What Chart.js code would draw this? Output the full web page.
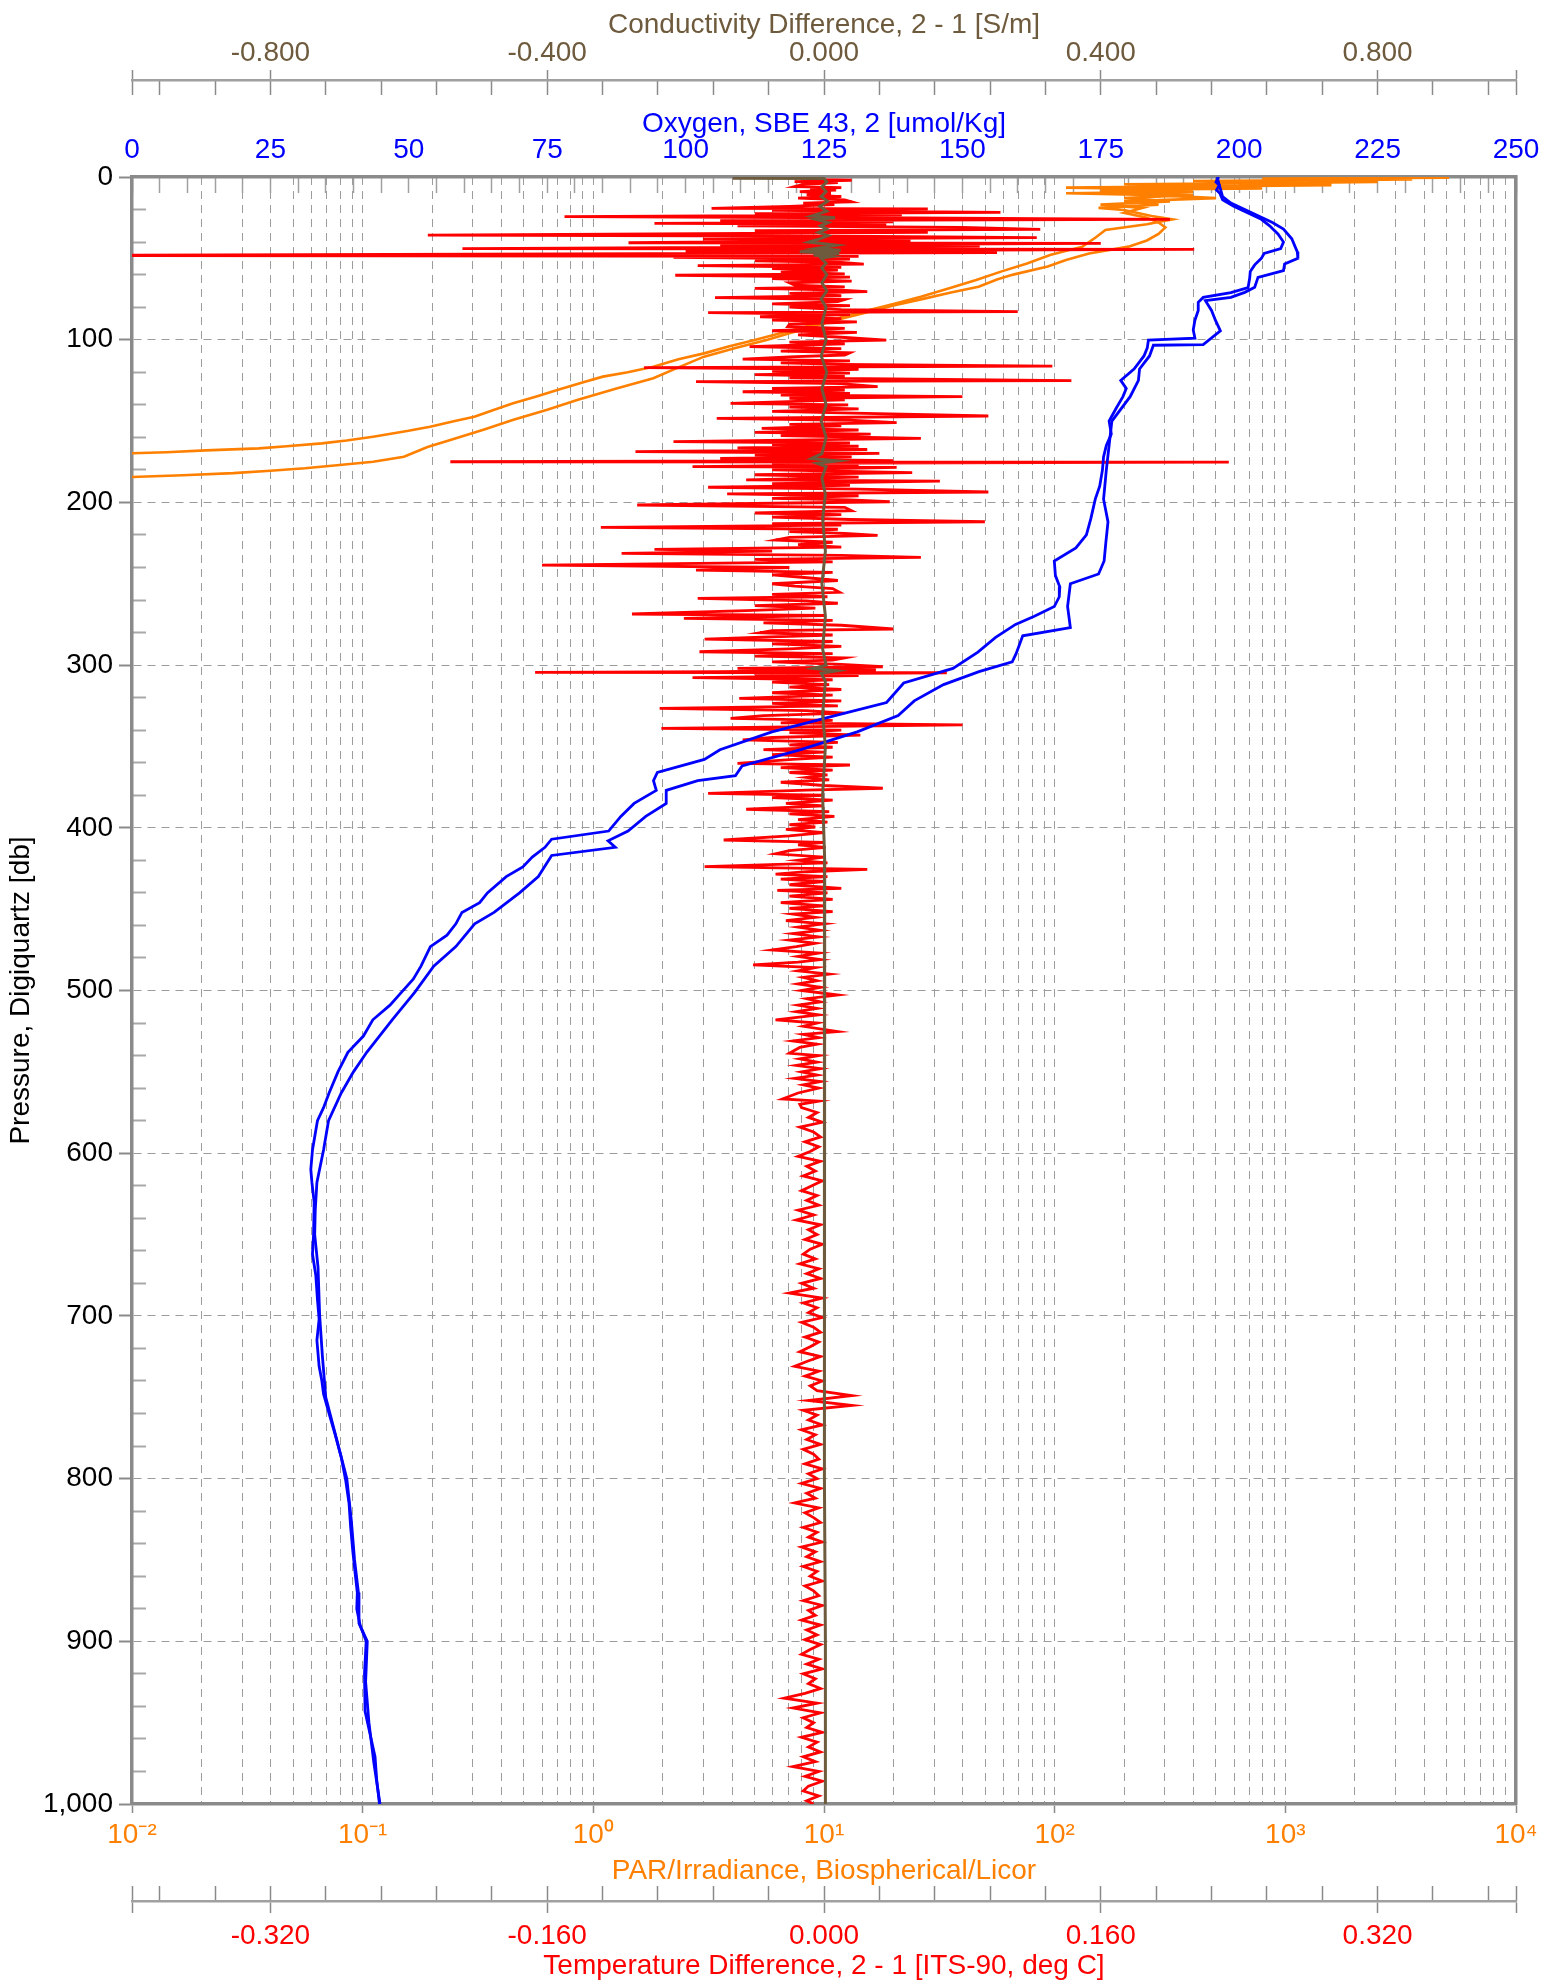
<!DOCTYPE html>
<html lang="en">
<head>
<meta charset="UTF-8">
<title>CTD cast - sensor differences</title>
<script src="https://cdn.jsdelivr.net/npm/chart.js"></script>
<style>
  html, body { margin: 0; padding: 0; background: #fff; }
  canvas { display: block; }
</style>
</head>
<body>
<canvas id="profileChart" width="1567" height="1986"></canvas>
<script>
// ---- values (pressure in db) ----

// Temperature difference 2 - 1 [deg C]
const tempP = [
  0.8, 1.5, 2.0, 2.8, 3.5, 4.5, 5.9, 6.5, 7.2, 8.0,
  9.0, 10.0, 11.0, 12.0, 13.0, 14.0, 15.2, 16.0, 17.0, 18.0,
  19.3, 19.6, 20.5, 21.7, 22.5, 23.3, 24.4, 25.2, 26.0, 26.8,
  27.6, 28.5, 29.0, 30.0, 31.0, 32.2, 33.0, 34.0, 35.7, 36.5,
  37.3, 38.2, 39.0, 40.4, 40.8, 41.8, 42.5, 44.0, 44.5, 45.5,
  46.5, 48.2, 48.8, 49.4, 50.5, 51.5, 52.5, 53.5, 54.5, 55.5,
  56.3, 57.2, 58.5, 59.5, 60.4, 61.5, 62.5, 64.0, 65.0, 66.4,
  67.5, 68.5, 69.5, 70.5, 71.5, 73.0, 74.2, 75.3, 76.6, 78.0,
  79.0, 80.0, 81.5, 82.8, 83.4, 84.5, 85.9, 87.0, 88.0, 89.0,
  90.5, 92.0, 93.0, 94.5, 95.5, 97.0, 98.5, 100.2, 101.5, 102.5,
  104.3, 105.5, 107.0, 108.0, 109.4, 110.5, 112.0, 113.0, 114.2, 115.2,
  116.2, 117.2, 118.3, 119.5, 120.5, 121.5, 122.5, 123.5, 125.2, 125.8,
  127.0, 128.9, 130.0, 131.0, 132.0, 133.0, 134.0, 135.0, 136.0, 137.0,
  139.1, 140.0, 141.5, 142.5, 144.0, 145.0, 146.9, 148.3, 149.5, 151.0,
  152.0, 153.0, 154.5, 155.5, 157.0, 158.0, 159.0, 160.6, 162.7, 163.5,
  164.5, 165.5, 166.5, 167.5, 168.8, 169.9, 171.0, 172.0, 173.0, 174.3,
  175.0, 175.3, 176.0, 177.0, 178.0, 178.5, 180.0, 181.7, 183.0, 184.5,
  186.2, 186.9, 188.5, 189.5, 190.7, 191.8, 193.6, 194.8, 196.0, 197.5,
  198.5, 199.6, 201.6, 203.0, 205.1, 206.5, 207.5, 209.0, 210.5, 211.9,
  213.0, 214.0, 215.3, 216.5, 218.0, 219.0, 220.3, 221.5, 223.1, 224.5,
  226.0, 227.5, 228.9, 230.0, 231.3, 232.5, 233.8, 235.0, 236.5, 238.5,
  240.0, 241.6, 243.0, 244.5, 246.0, 248.0, 250.0, 251.5, 253.0, 255.3,
  256.5, 258.0, 259.0, 260.5, 262.0, 263.5, 265.0, 266.5, 268.6, 269.5,
  271.3, 272.5, 274.0, 275.5, 277.8, 278.8, 280.1, 281.5, 283.0, 284.0,
  285.5, 287.0, 288.5, 290.0, 291.8, 293.0, 294.5, 295.5, 296.9, 298.0,
  299.5, 301.0, 302.0, 303.0, 304.0, 304.5, 304.7, 305.5, 306.5, 307.7,
  309.0, 310.5, 312.0, 313.5, 315.0, 317.0, 318.5, 320.5, 322.0, 323.5,
  325.0, 326.6, 328.0, 329.5, 331.0, 332.7, 334.0, 335.5, 336.8, 338.9,
  340.0, 341.5, 343.0, 344.5, 346.0, 347.5, 349.0, 350.5, 352.0, 353.5,
  355.0, 356.5, 358.0, 360.4, 361.4, 363.0, 364.5, 366.0, 367.5, 369.0,
  370.5, 372.0, 374.0, 375.7, 376.8, 378.8, 380.0, 381.5, 383.0, 385.0,
  386.5, 388.6, 390.0, 391.5, 393.0, 395.0, 396.5, 398.0, 399.5, 401.0,
  403.0, 405.0, 407.5, 409.0, 410.5, 412.0, 414.0, 416.0, 418.0, 420.0,
  421.5, 423.9, 425.5, 427.0, 428.5, 430.0, 431.5, 433.0, 435.0, 437.2,
  438.5, 440.0, 442.0, 444.0, 446.0, 448.0, 449.5, 451.5, 453.0, 455.0,
  457.0, 459.0, 461.0, 463.0, 465.0, 467.0, 469.0, 471.0, 473.0, 475.1,
  477.0, 479.0, 481.0, 482.5, 484.3, 486.0, 488.0, 490.0, 492.0, 494.0,
  496.0, 498.0, 500.0, 502.8, 505.0, 507.0, 509.0, 511.0, 513.0, 515.0,
  518.1, 520.0, 522.0, 525.3, 527.0, 529.0, 531.0, 533.0, 535.0, 538.6,
  540.0, 542.0, 544.0, 546.0, 548.0, 550.0, 552.0, 554.0, 556.0, 558.0,
  560.0, 563.0, 566.7, 568.0, 570.0,
  572, 575, 578, 581, 584, 587, 590, 593, 596, 599,
  602, 605, 608, 611, 614, 617, 620, 623, 626, 629,
  632, 635, 638, 641, 644, 647, 650, 653, 656, 659,
  662, 665, 668, 671, 674, 677, 680, 683, 686, 689,
  692, 695, 698, 701, 704, 707, 710, 713, 716, 719,
  722, 725, 728, 731, 734, 737, 740, 743, 746, 749,
  752, 755, 758, 761, 764, 767, 770, 773, 776, 779,
  782, 785, 788, 791, 794, 797, 800, 803, 806, 809,
  812, 815, 818, 821, 824, 827, 830, 833, 836, 839,
  842, 845, 848, 851, 854, 857, 860, 863, 866, 869,
  872, 875, 878, 881, 884, 887, 890, 893, 896, 899,
  902, 905, 908, 911, 914, 917, 920, 923, 926, 929,
  932, 935, 938, 941, 944, 947, 950, 953, 956, 959,
  962, 965, 968, 971, 974, 977, 980, 983, 986, 989,
  992, 995, 998, 1000
];
const tempDiff = [
  0.000, -0.010, 0.016, -0.017, 0.008, -0.012, -0.017, 0.010, -0.008, 0.007,
  -0.014, 0.004, -0.010, 0.010, -0.015, 0.012, 0.016, -0.012, 0.006, -0.020,
  -0.065, 0.060, -0.030, 0.102, -0.040, 0.045, -0.150, 0.050, 0.200, -0.060,
  0.040, -0.098, 0.036, -0.050, 0.080, 0.125, -0.040, 0.060, -0.229, 0.030,
  0.123, -0.070, 0.050, -0.113, 0.160, -0.060, 0.090, -0.209, 0.214, -0.080,
  0.100, -0.450, 0.020, -0.087, 0.015, -0.040, 0.010, 0.023, -0.073, 0.010,
  -0.030, 0.008, -0.025, 0.012, -0.086, 0.015, -0.030, 0.016, -0.020, -0.017,
  0.012, -0.040, 0.010, 0.025, -0.020, 0.010, -0.063, 0.012, 0.008, -0.030,
  0.015, -0.020, 0.010, 0.112, -0.067, 0.015, -0.037, 0.010, -0.030, 0.019,
  -0.020, -0.021, 0.012, -0.030, 0.019, -0.015, 0.010, 0.036, -0.020, 0.012,
  -0.043, 0.010, -0.025, 0.015, 0.012, -0.020, -0.047, 0.015, -0.025, 0.010,
  0.132, -0.104, 0.020, -0.030, 0.015, -0.040, 0.012, -0.020, 0.143, -0.074,
  0.010, 0.031, -0.030, 0.012, -0.047, 0.015, -0.025, 0.080, -0.020, 0.012,
  -0.054, 0.014, -0.020, 0.020, -0.030, 0.010, 0.095, -0.062, 0.015, 0.042,
  -0.020, 0.010, -0.036, 0.020, -0.040, 0.027, -0.025, 0.056, -0.087, 0.015,
  -0.030, 0.020, -0.050, 0.025, -0.109, 0.032, -0.040, 0.016, -0.060, 0.040,
  -0.216, 0.234, -0.030, 0.020, -0.076, 0.042, -0.030, 0.051, -0.040, 0.020,
  -0.045, 0.067, -0.030, 0.015, -0.067, 0.020, 0.095, -0.056, 0.020, -0.030,
  0.015, 0.038, -0.108, 0.012, 0.016, -0.040, 0.010, -0.030, 0.015, 0.093,
  -0.030, 0.010, -0.129, 0.008, -0.020, 0.012, 0.031, -0.020, -0.028, 0.005,
  -0.015, 0.010, -0.098, -0.030, -0.117, 0.010, 0.056, -0.040, 0.005, -0.163,
  -0.020, -0.074, 0.005, -0.030, -0.013, 0.008, -0.030, -0.017, 0.005, 0.009,
  -0.030, 0.002, -0.073, -0.010, 0.008, -0.040, -0.005, -0.045, -0.111, 0.000,
  -0.081, 0.005, -0.035, 0.010, 0.040, -0.030, -0.037, 0.005, -0.040, -0.069,
  0.005, -0.030, 0.010, -0.020, -0.072, 0.005, -0.040, 0.012, 0.005, -0.030,
  0.010, 0.034, -0.050, 0.030, -0.060, -0.167, 0.071, -0.040, 0.020, -0.076,
  0.005, -0.030, 0.003, -0.020, 0.010, -0.030, 0.005, -0.049, 0.010, -0.030,
  0.008, -0.095, -0.010, 0.012, -0.035, -0.054, 0.005, -0.025, 0.080, -0.094,
  0.010, -0.020, 0.021, -0.030, -0.047, 0.008, -0.020, 0.005, -0.035, 0.000,
  -0.030, 0.005, -0.018, -0.050, 0.015, -0.025, 0.005, -0.020, 0.002, -0.010,
  0.003, -0.025, 0.000, 0.034, -0.010, -0.067, 0.000, -0.030, 0.005, -0.022,
  0.000, -0.045, 0.003, -0.020, 0.006, -0.015, 0.002, -0.020, -0.005, -0.022,
  0.000, -0.020, -0.058, 0.000, -0.015, 0.001, -0.020, -0.028, 0.000, -0.015,
  0.002, -0.069, 0.025, -0.010, -0.028, 0.002, -0.025, 0.000, -0.020, 0.010,
  -0.027, 0.002, -0.020, 0.005, -0.025, 0.000, -0.020, 0.005, -0.018, -0.005,
  -0.022, 0.000, -0.015, -0.002, -0.018, -0.003, -0.020, -0.005, -0.016, -0.030,
  -0.003, -0.015, -0.002, -0.015, -0.041, -0.005, -0.015, 0.003, -0.012, -0.004,
  -0.015, -0.002, -0.013, 0.008, -0.010, -0.002, -0.015, -0.004, -0.016, -0.003,
  -0.028, -0.004, -0.012, 0.008, -0.012, -0.003, -0.018, -0.004, -0.014, -0.020,
  -0.003, -0.014, -0.004, -0.016, -0.002, -0.013, -0.004, -0.017, -0.002, -0.012,
  -0.003, -0.015, -0.024, -0.003, -0.014,
  -0.013, -0.004, -0.009, -0.001, -0.014, -0.006, -0.002, -0.011, -0.003, -0.008,
  -0.015, -0.002, -0.010, -0.005, -0.012, -0.001, -0.007, -0.013, -0.004, -0.010,
  -0.003, -0.015, -0.006, -0.016, -0.002, -0.009, -0.004, -0.011, -0.001, -0.008,
  -0.012, -0.005, -0.014, -0.003, -0.010, -0.002, -0.013, -0.006, -0.020, -0.001,
  -0.012, -0.004, -0.009, -0.001, -0.013, -0.006, -0.002, -0.011, -0.003, -0.008,
  -0.014, -0.002, -0.010, -0.017, -0.003, -0.011, -0.001, -0.008, -0.004, 0.016,
  -0.009, 0.016, -0.012, -0.004, -0.009, -0.001, -0.013, -0.005, -0.010, -0.002,
  -0.012, -0.006, -0.003, -0.011, -0.001, -0.009, -0.004, -0.013, -0.002, -0.010,
  -0.005, -0.017, -0.003, -0.011, -0.006, -0.002, -0.012, -0.004, -0.009, -0.001,
  -0.013, -0.005, -0.010, -0.002, -0.012, -0.004, -0.008, -0.001, -0.011, -0.006,
  -0.003, -0.012, -0.001, -0.009, -0.005, -0.013, -0.002, -0.010, -0.004, -0.011,
  -0.002, -0.008, -0.013, -0.003, -0.010, -0.001, -0.012, -0.005, -0.009, -0.002,
  -0.011, -0.023, -0.004, -0.018, -0.002, -0.012, -0.006, -0.010, -0.001, -0.013,
  -0.004, -0.009, -0.002, -0.012, -0.005, -0.018, -0.003, -0.011, -0.001, -0.009,
  -0.012, -0.003, -0.010, -0.006
];

// Conductivity difference 2 - 1 [S/m]
const condP = [
  0.7, 0.9, 3, 6, 9, 12, 15, 18, 21, 24,
  25, 26, 28, 30, 32, 34, 36, 38, 40, 42,
  44, 45, 46, 47, 48, 49, 50, 53, 56, 60,
  65, 70, 75, 80, 90, 100, 110, 120, 130, 140,
  150, 160, 170, 173, 174.5, 176, 178, 185, 195, 210,
  230, 250, 270, 290, 300, 302, 303.5, 305, 310, 330,
  350, 380, 420, 470, 520, 600, 700, 800, 900, 1000
];
const condDiff = [
  -0.132, 0.000, 0.004, -0.003, 0.003, -0.004, 0.005, -0.006, 0.004, -0.018,
  0.016, -0.012, 0.006, -0.005, 0.004, -0.008, 0.006, -0.006, -0.022, 0.018,
  -0.012, 0.024, -0.035, 0.022, -0.015, 0.010, -0.004, 0.003, -0.003, 0.004,
  -0.003, 0.004, -0.004, 0.003, -0.003, 0.003, -0.004, 0.004, -0.003, 0.003,
  -0.004, 0.003, -0.003, -0.018, 0.020, -0.010, 0.003, -0.003, 0.002, -0.002,
  0.002, -0.003, 0.002, -0.002, 0.003, -0.016, 0.018, -0.004, 0.002, -0.002,
  0.002, -0.002, 0.001, 0.000, 0.001, 0.000, 0.001, 0.001, 0.002, 0.002
];

// Oxygen, SBE 43, 2 [umol/Kg] - down and up traces
const oxyP1 = [
  0, 3, 5, 8, 10, 14, 18, 22, 26, 30,
  35, 40, 44, 47, 50, 54, 58, 62, 68, 71,
  74, 77, 82, 88, 94, 99, 100.2, 105, 110, 118,
  125, 130, 135, 142, 150, 158, 165, 172, 180, 190,
  198, 210, 220, 228, 236, 245, 252, 258, 264, 270,
  275, 283, 292, 302, 311, 323, 331, 341, 352, 358,
  366, 371, 377, 385, 393, 402, 407, 412, 418, 424,
  430, 440, 446, 452, 459, 466, 473, 485, 493, 501,
  509, 518, 528, 538, 550, 563, 572, 580, 590, 598,
  610, 618, 630, 650, 662, 675, 690, 702, 715, 731,
  740, 748, 760, 773, 787, 801, 815, 830, 845, 858,
  870, 880, 890, 900, 920, 943, 957, 971, 985, 1000
];
const oxyO1 = [
  196.3, 195.8, 196.4, 195.9, 196.5, 197.0, 199.0, 201.5, 204.0, 205.5,
  207.0, 208.0, 207.5, 204.5, 204.0, 202.8, 202.0, 201.9, 201.6, 198.5,
  193.5, 192.6, 192.6, 192.0, 191.7, 192.0, 183.6, 183.4, 182.8, 181.0,
  178.6, 179.6, 179.0, 177.8, 176.5, 176.9, 176.0, 175.5, 175.3, 174.8,
  174.0, 173.2, 172.4, 170.5, 166.6, 166.8, 167.6, 167.5, 166.6, 163.0,
  159.6, 156.0, 152.8, 148.3, 139.4, 136.3, 127.0, 115.6, 106.2, 103.4,
  94.9, 94.2, 94.7, 90.7, 88.3, 86.1, 75.8, 74.6, 72.3, 70.6,
  67.6, 64.2, 62.8, 59.6, 58.5, 56.9, 53.9, 52.2, 50.8, 48.7,
  46.6, 43.5, 41.8, 39.0, 37.2, 35.6, 34.6, 33.5, 33.0, 32.6,
  32.3, 32.5, 32.9, 32.8, 32.6, 33.2, 33.5, 33.8, 33.4, 33.8,
  34.3, 34.6, 35.6, 36.7, 37.8, 38.6, 39.2, 39.5, 39.9, 40.3,
  40.7, 40.6, 41.2, 42.3, 42.0, 42.1, 43.0, 43.9, 44.2, 44.7
];
const oxyP2 = [
  0, 6, 12, 16, 20, 24, 28, 32, 38, 42,
  46, 50, 53.5, 57.6, 61.7, 67.8, 70.9, 74, 76, 82,
  88, 94.6, 103, 103.4, 110, 118, 125, 135, 150, 165,
  180, 198, 212, 225, 236, 244, 250, 264, 277, 282,
  293, 298, 304, 312, 322, 331, 341, 352, 362, 368,
  371, 377, 385, 393, 402, 408, 412, 417, 430, 440,
  452, 459, 473, 485, 501, 518, 538, 550, 563, 580,
  598, 618, 635, 650, 670, 700, 725, 750, 775, 800,
  825, 850, 870, 889, 900, 925, 950, 975, 1000
];
const oxyO2 = [
  196.0, 196.5, 197.0, 198.5, 201.0, 203.5, 206.0, 208.0, 209.5, 210.0,
  210.5, 210.6, 208.2, 208.0, 203.4, 202.8, 201.0, 198.5, 193.9, 195.0,
  195.7, 196.6, 193.5, 184.5, 183.8, 182.0, 181.8, 180.3, 177.0, 176.5,
  176.0, 175.5, 176.3, 175.9, 175.6, 174.6, 169.5, 169.0, 169.5, 160.9,
  159.7, 159.0, 153.0, 146.6, 141.3, 138.4, 131.0, 120.8, 110.2, 109.0,
  102.2, 96.5, 96.5, 92.8, 89.6, 86.0, 87.3, 75.8, 73.4, 70.0,
  65.4, 61.9, 58.5, 54.5, 51.1, 47.0, 42.4, 40.0, 37.8, 35.5,
  34.6, 33.4, 33.1, 33.0, 33.6, 33.9, 34.4, 35.0, 36.9, 38.8,
  39.6, 40.2, 40.9, 41.0, 42.5, 42.2, 42.8, 43.7, 44.8
];

// PAR/Irradiance - two traces
const parP1 = [
  0.3, 0.8, 1.5, 2, 3, 4, 5, 6, 7, 8,
  9, 10, 11, 13, 15, 17, 19, 20.3, 24, 26,
  29, 32.6, 37, 42.8, 48, 53.1, 58, 63.3, 68, 73.6,
  78, 83.8, 88, 92, 96, 100.2, 104, 108.4, 112, 116.6,
  120, 122.7, 126, 130.9, 135, 139.1, 143, 147.3, 150, 153.5,
  156, 159.6, 162, 163.7, 165.5, 166.8, 168, 169.2, 169.8, 171
];
const parV1 = [
  5012, 1995, 3548, 1259, 2512, 631, 1585, 316, 794, 158,
  398, 112, 251, 501, 200, 282, 155, 200, 263, 324,
  251, 166, 151, 132, 95.5, 75.9, 58.9, 45.7, 35.5, 26.3,
  20.0, 13.8, 10.7, 8.32, 6.46, 5.01, 3.89, 3.02, 2.34, 1.82,
  1.41, 1.10, 0.912, 0.698, 0.562, 0.449, 0.372, 0.305, 0.251, 0.196,
  0.158, 0.111, 0.0851, 0.0665, 0.0468, 0.0355, 0.0209, 0.0141, 0.0100, 0.0025
];
const parP2 = [
  0, 0.5, 1, 1.5, 2.5, 3.5, 4.5, 5.5, 6.5, 7.5,
  9, 11, 13, 15, 17, 19, 22, 25, 28, 31,
  35, 39, 42.8, 47, 51, 55, 60, 63, 67.4, 71,
  74.6, 79, 83.8, 88, 92, 96, 100, 105, 110.4, 117,
  123.7, 130, 137, 143, 149.4, 155, 161.6, 166, 171.9, 175,
  177, 179, 180.5, 182, 183.3, 184.4, 185.5
];
const parV2 = [
  2512, 5129, 794, 2818, 398, 1259, 200, 631, 112, 316,
  158, 398, 200, 316, 158, 240, 200, 251, 282, 302,
  282, 251, 209, 141, 112, 93.3, 66.1, 56.2, 46.8, 35.5,
  27.5, 20.0, 14.8, 11.2, 8.91, 7.08, 5.69, 4.17, 3.02, 2.34,
  1.82, 1.26, 0.851, 0.631, 0.447, 0.339, 0.240, 0.191, 0.151, 0.111,
  0.0794, 0.0562, 0.0398, 0.0275, 0.0166, 0.0100, 0.0025
];

// axis tick labels
const parDecadeLabels = ['10\u207B\u00B2', '10\u207B\u00B9', '10\u2070', '10\u00B9', '10\u00B2', '10\u00B3', '10\u2074'];

// ---- styling ----
const FONT = "'Liberation Sans', Arial, sans-serif";
const TICK_FONT = { family: FONT, size: 28 };
const AXIS_GREY = '#8a8a8a';
const GRID_GREY = '#9c9c9c';
const CLEAR = 'rgba(0,0,0,0)';
const RED = '#ff0000';
const BLUE = '#0000ff';
const ORANGE = '#ff8000';
const BROWN = '#6e5a3c';

// tick positions for the two detached difference axes
function diffTicks(limit, step, count) {
  const vals = [-limit];
  for (let k = -count; k <= count; k++) vals.push(Math.round(k * step * 1e6) / 1e6);
  vals.push(limit);
  return vals;
}
const condTicks = diffTicks(1, 0.08, 12);
const tempTicks = diffTicks(0.4, 0.032, 12);

const near = (a, b) => Math.abs(a - b) < 1e-7;
const isLabelled = (v, step) => near(v / step, Math.round(v / step));
const isEnd = (v, limit) => near(Math.abs(v), limit);

// log axis ticks 1..9 per decade
const parTicks = [];
for (let e = -2; e <= 3; e++) {
  for (let m = 1; m <= 9; m++) parTicks.push(Number((m * Math.pow(10, e)).toPrecision(3)));
}
parTicks.push(10000);
const isDecade = v => near(Math.log10(v), Math.round(Math.log10(v)));

const setH = h => s => { s.height = h; };
const setW = w => s => { s.width = w; };
const tickVal = ctx => (ctx.tick ? ctx.tick.value : NaN);

function profile(pArr, vArr) {
  return pArr.map((p, i) => ({ x: vArr[i], y: p }));
}
function line(label, xAxisID, data, color, width) {
  return {
    label, xAxisID, yAxisID: 'y', data,
    showLine: true, borderColor: color, backgroundColor: color,
    borderWidth: width, pointRadius: 0, tension: 0
  };
}

new Chart(document.getElementById('profileChart'), {
  type: 'scatter',
  data: {
    datasets: [
      line('Conductivity Difference', 'xCond', profile(condP, condDiff), BROWN, 3),
      line('Oxygen down', 'xOxy', profile(oxyP1, oxyO1), BLUE, 2.8),
      line('Oxygen up', 'xOxy', profile(oxyP2, oxyO2), BLUE, 2.8),
      line('Temperature Difference', 'xTemp', profile(tempP, tempDiff), RED, 2.8),
      line('PAR 1', 'xPar', profile(parP1, parV1), ORANGE, 2.6),
      line('PAR 2', 'xPar', profile(parP2, parV2), ORANGE, 2.6)
    ]
  },
  options: {
    responsive: false,
    animation: false,
    devicePixelRatio: 1,
    layout: { padding: 0 },
    plugins: { legend: { display: false }, tooltip: { enabled: false } },
    scales: {
      y: {
        type: 'linear', position: 'left', reverse: true, min: 0, max: 1000, weight: 1,
        afterFit: setW(132),
        ticks: {
          stepSize: 20, autoSkip: false, padding: 6, color: '#000', font: TICK_FONT,
          callback: v => (v % 100 === 0 ? v.toLocaleString('en-US') : '')
        },
        grid: {
          color: ctx => (tickVal(ctx) % 100 === 0 ? GRID_GREY : CLEAR),
          lineWidth: 1, tickLength: 13, tickWidth: 2,
          tickColor: ctx => (tickVal(ctx) % 100 === 0 ? AXIS_GREY : CLEAR)
        },
        border: { color: AXIS_GREY, width: 3.5, dash: [8, 6] },
        title: {
          display: true, text: 'Pressure, Digiquartz [db]', color: '#000',
          font: TICK_FONT, padding: { top: 4, bottom: 0 }
        }
      },
      yMinor: {
        type: 'linear', position: 'left', reverse: true, min: 0, max: 1000, weight: 0,
        afterFit: setW(0),
        ticks: { display: false, stepSize: 20, autoSkip: false },
        grid: {
          drawOnChartArea: false, tickLength: -14, tickWidth: 2,
          tickColor: ctx => (tickVal(ctx) % 100 === 0 ? CLEAR : '#a8a8a8')
        },
        border: { display: false }
      },
      yRight: {
        type: 'linear', position: 'right', reverse: true, min: 0, max: 1000,
        afterFit: setW(51),
        ticks: { display: false },
        grid: { drawOnChartArea: false, drawTicks: false },
        border: { color: AXIS_GREY, width: 3.5 }
      },
      xOxy: {
        type: 'linear', position: 'top', min: 0, max: 250, weight: 0,
        afterFit: setH(97),
        ticks: {
          stepSize: 5, autoSkip: false, maxRotation: 0, minRotation: 0, padding: 26,
          color: BLUE, font: TICK_FONT,
          callback: v => (v % 25 === 0 ? String(v) : '')
        },
        grid: { drawOnChartArea: false, tickLength: -16, tickWidth: 1.5, tickColor: '#a0a0a0' },
        border: { color: AXIS_GREY, width: 3.5 },
        title: {
          display: true, text: 'Oxygen, SBE 43, 2 [umol/Kg]', color: BLUE,
          font: TICK_FONT, padding: { top: 27, bottom: 0 }
        }
      },
      xCondMinor: {
        type: 'linear', position: 'top', min: -1, max: 1, weight: 1,
        afterFit: setH(0),
        afterBuildTicks: s => { s.ticks = condTicks.map(v => ({ value: v })); },
        ticks: { display: false, autoSkip: false },
        grid: { drawOnChartArea: false, tickLength: -15, tickWidth: 1.5, tickColor: AXIS_GREY },
        border: { display: false }
      },
      xCond: {
        type: 'linear', position: 'top', min: -1, max: 1, weight: 2,
        afterFit: setH(80),
        afterBuildTicks: s => { s.ticks = condTicks.map(v => ({ value: v })); },
        ticks: {
          autoSkip: false, maxRotation: 0, minRotation: 0, padding: 0,
          color: BROWN, font: TICK_FONT,
          callback: v => (isLabelled(v, 0.4) && !isEnd(v, 1) ? v.toFixed(3) : '')
        },
        grid: {
          drawOnChartArea: false, tickLength: 10, tickWidth: 1.5,
          tickColor: ctx => {
            const v = tickVal(ctx);
            return isLabelled(v, 0.4) || isEnd(v, 1) ? AXIS_GREY : CLEAR;
          }
        },
        border: { color: '#a0a0a0', width: 2.5 },
        title: {
          display: true, text: 'Conductivity Difference, 2 - 1 [S/m]', color: BROWN,
          font: TICK_FONT, padding: { top: 8, bottom: 0 }
        }
      },
      xPar: {
        type: 'logarithmic', position: 'bottom', min: 0.01, max: 10000, weight: 0,
        afterFit: setH(97),
        afterBuildTicks: s => { s.ticks = parTicks.map(v => ({ value: v })); },
        ticks: {
          autoSkip: false, maxRotation: 0, minRotation: 0, padding: 5,
          color: ORANGE, font: TICK_FONT,
          callback: v => (isDecade(v) ? parDecadeLabels[Math.round(Math.log10(v)) + 2] : '')
        },
        grid: {
          color: GRID_GREY, lineWidth: 1, tickLength: 9, tickWidth: 1.5,
          tickColor: ctx => (isDecade(tickVal(ctx)) ? AXIS_GREY : CLEAR)
        },
        border: { color: AXIS_GREY, width: 3.5, dash: [8, 6] },
        title: {
          display: true, text: 'PAR/Irradiance, Biospherical/Licor', color: ORANGE,
          font: TICK_FONT, padding: { top: 0, bottom: 13 }
        }
      },
      xTempMinor: {
        type: 'linear', position: 'bottom', min: -0.4, max: 0.4, weight: 1,
        afterFit: setH(0),
        afterBuildTicks: s => { s.ticks = tempTicks.map(v => ({ value: v })); },
        ticks: { display: false, autoSkip: false },
        grid: { drawOnChartArea: false, tickLength: -15, tickWidth: 1.5, tickColor: AXIS_GREY },
        border: { display: false }
      },
      xTemp: {
        type: 'linear', position: 'bottom', min: -0.4, max: 0.4, weight: 2,
        afterFit: setH(85),
        afterBuildTicks: s => { s.ticks = tempTicks.map(v => ({ value: v })); },
        ticks: {
          autoSkip: false, maxRotation: 0, minRotation: 0, padding: 6,
          color: RED, font: TICK_FONT,
          callback: v => (isLabelled(v, 0.16) && !isEnd(v, 0.4) ? v.toFixed(3) : '')
        },
        grid: {
          drawOnChartArea: false, tickLength: 12, tickWidth: 1.5,
          tickColor: ctx => {
            const v = tickVal(ctx);
            return isLabelled(v, 0.16) || isEnd(v, 0.4) ? AXIS_GREY : CLEAR;
          }
        },
        border: { color: '#a0a0a0', width: 2.5 },
        title: {
          display: true, text: 'Temperature Difference, 2 - 1 [ITS-90, deg C]', color: RED,
          font: TICK_FONT, padding: { top: 0, bottom: 3 }
        }
      }
    }
  }
});
</script>
</body>
</html>
